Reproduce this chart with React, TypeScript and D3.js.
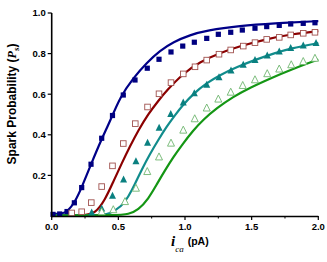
import React from "react";
import * as d3 from "d3";

// measured points, [pA, probability]
const blueSquares: [number, number][] = [
  [0.01, 0.008], [0.06, 0.01], [0.115, 0.022], [0.17, 0.065], [0.225, 0.14],
  [0.295, 0.255], [0.375, 0.383], [0.456, 0.495], [0.537, 0.596], [0.625, 0.67],
  [0.717, 0.728], [0.805, 0.772], [0.895, 0.808], [0.983, 0.837], [1.07, 0.856],
  [1.163, 0.875], [1.25, 0.895], [1.343, 0.905], [1.43, 0.916], [1.525, 0.925],
  [1.613, 0.933], [1.707, 0.939], [1.793, 0.946], [1.887, 0.949], [1.975, 0.952],
];
const redSquares: [number, number][] = [
  [0.15, 0.015], [0.225, 0.021], [0.297, 0.066], [0.375, 0.145], [0.456, 0.247],
  [0.537, 0.357], [0.627, 0.455], [0.719, 0.537], [0.805, 0.602], [0.895, 0.657],
  [0.987, 0.7], [1.075, 0.735], [1.163, 0.768], [1.255, 0.797], [1.343, 0.818],
  [1.437, 0.837], [1.525, 0.854], [1.613, 0.87], [1.707, 0.88], [1.793, 0.892],
  [1.887, 0.9], [1.975, 0.905],
];
const tealTriangles: [number, number][] = [
  [0.3, 0.016], [0.375, 0.036], [0.456, 0.099], [0.539, 0.179], [0.632, 0.269],
  [0.719, 0.36], [0.806, 0.434], [0.893, 0.502], [0.987, 0.558], [1.07, 0.604],
  [1.163, 0.645], [1.255, 0.683], [1.345, 0.716], [1.437, 0.744], [1.525, 0.768],
  [1.617, 0.79], [1.707, 0.809], [1.793, 0.826], [1.887, 0.839], [1.983, 0.851],
];
const greenTriangles: [number, number][] = [
  [0.375, 0.02], [0.462, 0.03], [0.55, 0.07], [0.632, 0.136], [0.717, 0.218],
  [0.805, 0.29], [0.895, 0.358], [0.987, 0.422], [1.073, 0.478], [1.163, 0.531],
  [1.25, 0.575], [1.343, 0.609], [1.433, 0.642], [1.525, 0.67], [1.617, 0.7],
  [1.707, 0.723], [1.797, 0.744], [1.887, 0.76], [1.975, 0.776],
];

// fitted curves
const blueFit: [number, number][] = [
  [0, 0.01], [0.077, 0.01], [0.12, 0.022], [0.175, 0.07], [0.225, 0.14],
  [0.295, 0.255], [0.375, 0.38], [0.44, 0.47], [0.512, 0.585], [0.612, 0.68],
  [0.713, 0.755], [0.813, 0.815], [0.912, 0.857], [1.038, 0.892], [1.163, 0.914],
  [1.413, 0.937], [1.662, 0.949], [2.0, 0.96],
];
const redFit: [number, number][] = [
  [0, 0.003], [0.25, 0.003], [0.325, 0.012], [0.4, 0.079], [0.462, 0.169],
  [0.525, 0.259], [0.587, 0.343], [0.65, 0.422], [0.725, 0.503], [0.8, 0.568],
  [0.863, 0.618], [0.988, 0.703], [1.113, 0.759], [1.263, 0.803], [1.413, 0.837],
  [1.613, 0.872], [1.813, 0.897], [2.0, 0.911],
];
const tealFit: [number, number][] = [
  [0, 0.003], [0.362, 0.003], [0.425, 0.008], [0.525, 0.046], [0.575, 0.095],
  [0.625, 0.158], [0.675, 0.228], [0.737, 0.305], [0.8, 0.375], [0.862, 0.44],
  [0.925, 0.497], [0.985, 0.547], [1.062, 0.602], [1.163, 0.655], [1.263, 0.695],
  [1.39, 0.734], [1.533, 0.771], [1.675, 0.803], [1.788, 0.825], [2.0, 0.852],
];
const greenFit: [number, number][] = [
  [0, 0.003], [0.497, 0.003], [0.575, 0.008], [0.65, 0.03], [0.725, 0.084],
  [0.79, 0.158], [0.85, 0.225], [0.912, 0.29], [0.975, 0.348], [1.062, 0.422],
  [1.137, 0.475], [1.237, 0.531], [1.362, 0.588], [1.487, 0.632], [1.637, 0.677],
  [1.787, 0.719], [2.0, 0.771],
];

const xTicks = [0, 0.5, 1.0, 1.5, 2.0];
const xMinor = [0.25, 0.75, 1.25, 1.75];
const yTicks = [0.2, 0.4, 0.6, 0.8, 1.0];

const W = 327;
const H = 262;
const font = "'Liberation Sans', Arial, sans-serif";

export default function App() {
  const x = d3.scaleLinear().domain([0, 2]).range([51.7, 318.3]);
  const y = d3.scaleLinear().domain([0, 1]).range([216, 13]);
  const line = d3
    .line<[number, number]>()
    .x((d) => x(d[0]))
    .y((d) => y(d[1]))
    .curve(d3.curveBasis);
  const tri = (cx: number, cy: number, s: number) =>
    `M${cx},${cy - s * 0.6}L${cx + s / 2},${cy + s * 0.4}L${cx - s / 2},${cy + s * 0.4}Z`;

  return (
    <div style={{ position: "absolute", left: 0, top: 0 }}>
      <svg width={W} height={H} style={{ display: "block", background: "#fff" }}>
        {/* fitted curves */}
        <path d={line(blueFit) || ""} fill="none" stroke="#000088" strokeWidth={2.2} />
        <path d={line(redFit) || ""} fill="none" stroke="#8b0000" strokeWidth={2.2} />
        <path d={line(tealFit) || ""} fill="none" stroke="#118c8c" strokeWidth={2.2} />
        <path d={line(greenFit) || ""} fill="none" stroke="#149614" strokeWidth={2.2} />

        {/* data markers, drawn over the curves */}
        {blueSquares.map((d, i) => (
          <rect key={"b" + i} x={x(d[0]) - 2.6} y={y(d[1]) - 2.6} width={5.2} height={5.2} fill="#000080" />
        ))}
        {redSquares.map((d, i) => (
          <rect key={"r" + i} x={x(d[0]) - 2.8} y={y(d[1]) - 2.8} width={5.6} height={5.6}
            fill="#fff" stroke="#a0524f" strokeWidth={0.9} />
        ))}
        {tealTriangles.map((d, i) => (
          <path key={"t" + i} d={tri(x(d[0]), y(d[1]), 7)} fill="#0a8080" />
        ))}
        {greenTriangles.map((d, i) => (
          <path key={"g" + i} d={tri(x(d[0]), y(d[1]), 7)} fill="#fff" stroke="#6fb56f" strokeWidth={0.9} />
        ))}

        {/* axes */}
        <line x1={x(0)} x2={x(2)} y1={y(0) + 0.5} y2={y(0) + 0.5} stroke="#000" strokeWidth={1.6} />
        <line x1={x(0)} x2={x(0)} y1={y(0) + 1.3} y2={y(1)} stroke="#000" strokeWidth={1.6} />
        {xTicks.map((t) => (
          <g key={"xt" + t}>
            <line x1={x(t)} x2={x(t)} y1={y(0)} y2={y(0) + 4} stroke="#000" strokeWidth={1.2} />
            <text x={x(t)} y={y(0) + 14} textAnchor="middle" fontFamily={font} fontWeight="bold" fontSize={9.5}>
              {t.toFixed(1)}
            </text>
          </g>
        ))}
        {xMinor.map((t) => (
          <line key={"xm" + t} x1={x(t)} x2={x(t)} y1={y(0)} y2={y(0) + 2.5} stroke="#000" strokeWidth={1} />
        ))}
        {yTicks.map((t) => (
          <g key={"yt" + t}>
            <line x1={x(0) - 4} x2={x(0)} y1={y(t)} y2={y(t)} stroke="#000" strokeWidth={1.2} />
            <text x={x(0) - 6} y={y(t) + 3.4} textAnchor="end" fontFamily={font} fontWeight="bold" fontSize={9.5}>
              {t.toFixed(1)}
            </text>
          </g>
        ))}

        {/* axis titles */}
        <text transform="translate(16,104) rotate(-90)" textAnchor="middle" fontFamily={font}
          fontWeight="bold" fontSize={12}>
          Spark Probability (
          <tspan fontFamily="'Liberation Serif', serif" fontStyle="italic">P</tspan>
          <tspan fontFamily="'Liberation Serif', serif" fontStyle="italic" fontSize={9} dy={3}>s</tspan>
          <tspan dy={-3}>)</tspan>
        </text>
        <text x={171} y={246} fontFamily="'Liberation Serif', serif" fontStyle="italic" fontWeight="bold" fontSize={15}>
          i
          <tspan fontSize={9} fontWeight="normal" dy={6}>ca</tspan>
          <tspan fontFamily={font} fontStyle="normal" fontWeight="bold" fontSize={10.5} dx={4} dy={-7}>(pA)</tspan>
        </text>
      </svg>
    </div>
  );
}
